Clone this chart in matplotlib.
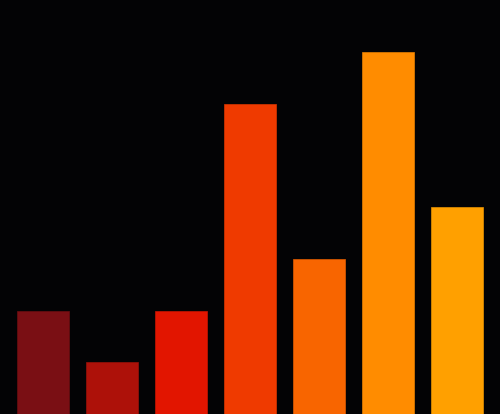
import matplotlib
matplotlib.use('Agg')
import matplotlib.pyplot as plt

categories = ['A', 'B', 'C', 'D', 'E', 'F', 'G']
values = [2, 1, 2, 6, 3, 7, 4]
colors = ['#7a0f14', '#ad1109', '#e21500', '#ef3a00', '#f86500', '#ff8c00', '#ffa000']
edge_colors = ['#6a0d10', '#9a1008', '#c81400', '#d83500', '#e05c00', '#e88000', '#e89200']

fig = plt.figure(figsize=(5, 4.145), dpi=100)
fig.patch.set_facecolor('#030305')
ax = fig.add_axes([0, 0, 1, 1])
ax.set_facecolor('#030305')

x = range(len(categories))
ax.bar(x, values, width=0.74, color=colors, edgecolor=edge_colors, linewidth=0.5)

ax.set_xlim(-0.623, len(categories) - 1 + 0.623)
ax.set_ylim(0, 8.02)
ax.axis('off')

fig.savefig('out.png', dpi=100, facecolor=fig.get_facecolor())
